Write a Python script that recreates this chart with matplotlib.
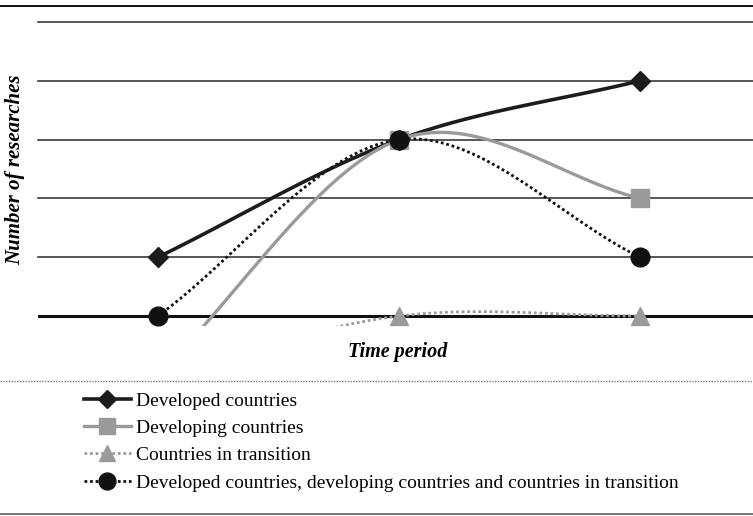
import numpy as np
import matplotlib.pyplot as plt
from matplotlib.lines import Line2D

# data (schematic; gridlines are the unit steps)
periods = [1, 2, 3]
developed = [1, 3, 4]
developing = [-1, 3, 2]
transition = [-1, 0, 0]
combined = [0, 3, 1]

labels = ['Developed countries',
          'Developing countries',
          'Countries in transition',
          'Developed countries, developing countries and countries in transition']


def smooth(x, y, n=60):
    # cubic hermite through the points, like a "smoothed line" in a spreadsheet
    x = np.asarray(x, float)
    y = np.asarray(y, float)
    m = np.zeros(len(y))
    for i in range(len(y)):
        if i == 0:
            m[i] = (y[1] - y[0]) / (x[1] - x[0])
        elif i == len(y) - 1:
            m[i] = (y[-1] - y[-2]) / (x[-1] - x[-2])
        else:
            m[i] = (y[i + 1] - y[i - 1]) / (x[i + 1] - x[i - 1])
    xs, ys = [], []
    for i in range(len(y) - 1):
        h = x[i + 1] - x[i]
        t = np.linspace(0, 1, n)
        h00 = 2 * t**3 - 3 * t**2 + 1
        h10 = t**3 - 2 * t**2 + t
        h01 = -2 * t**3 + 3 * t**2
        h11 = t**3 - t**2
        xs.append(x[i] + t * h)
        ys.append(h00 * y[i] + h10 * h * m[i] + h01 * y[i + 1] + h11 * h * m[i + 1])
    return np.concatenate(xs), np.concatenate(ys)


plt.rcParams['font.family'] = ['Liberation Serif', 'DejaVu Serif']

fig = plt.figure(figsize=(7.53, 5.16), dpi=100)
W, H = 753, 516
ax = fig.add_axes([38 / W, 1 - 326 / H, (753 - 38) / W, (326 - 22) / H])
ax.set_xlim(0.502, 3.469)
ax.set_ylim(-0.17, 5)
ax.axis('off')

for lev in range(1, 6):
    ax.axhline(lev, color='#3a3a3a', lw=1.2, zorder=1, clip_on=False)
ax.axhline(0, color='#111111', lw=2.2, zorder=1)

styles = [
    dict(color='#1c1c1c', ls='-', lw=2.6, marker='D', ms=10.5),
    dict(color='#9a9a9a', ls='-', lw=2.4, marker='s', ms=13),
    dict(color='#9a9a9a', ls=(0, (1, 1)), lw=2.0, marker='^', ms=13),
    dict(color='#111111', ls=(0, (1, 1)), lw=2.0, marker='o', ms=13.5),
]
series = [developed, developing, transition, combined]

for vals, st in zip(series, styles):
    sx, sy = smooth(periods, vals)
    ax.plot(sx, sy, color=st['color'], ls=st['ls'], lw=st['lw'], zorder=2)
    px = [p for p, v in zip(periods, vals) if v >= 0]
    pv = [v for v in vals if v >= 0]
    ax.plot(px, pv, ls='none', marker=st['marker'], ms=st['ms'],
            color=st['color'], mec=st['color'], clip_on=False, zorder=3)

fig.text(15 / W, 1 - 170 / H, 'Number of researches', rotation=90,
         ha='center', va='center', fontsize=15, fontweight='bold', style='italic')
fig.text(398 / W, 1 - 352 / H, 'Time period', ha='center', va='center',
         fontsize=14.5, fontweight='bold', style='italic')

# rules
fig.add_artist(Line2D([0, 1], [1 - 6 / H, 1 - 6 / H], color='#111111', lw=1.4))
fig.add_artist(Line2D([0, 1], [1 - 381 / H, 1 - 381 / H], color='#777777',
                      lw=1.0, ls=(0, (1, 1))))
fig.add_artist(Line2D([0, 1], [1 - 514 / H, 1 - 514 / H], color='#777777', lw=1.4))

handles = [Line2D([], [], color=st['color'], ls=st['ls'], lw=st['lw'],
                  marker=st['marker'], ms=st['ms'] * 0.9)
           for st in styles]
fig.legend(handles, labels, loc='upper left', bbox_to_anchor=(84 / W, 1 - 392 / H),
           frameon=False, fontsize=14, handlelength=2.4, handletextpad=0.3,
           labelspacing=0.5, borderpad=0, borderaxespad=0)

fig.savefig('out.png', dpi=100)
